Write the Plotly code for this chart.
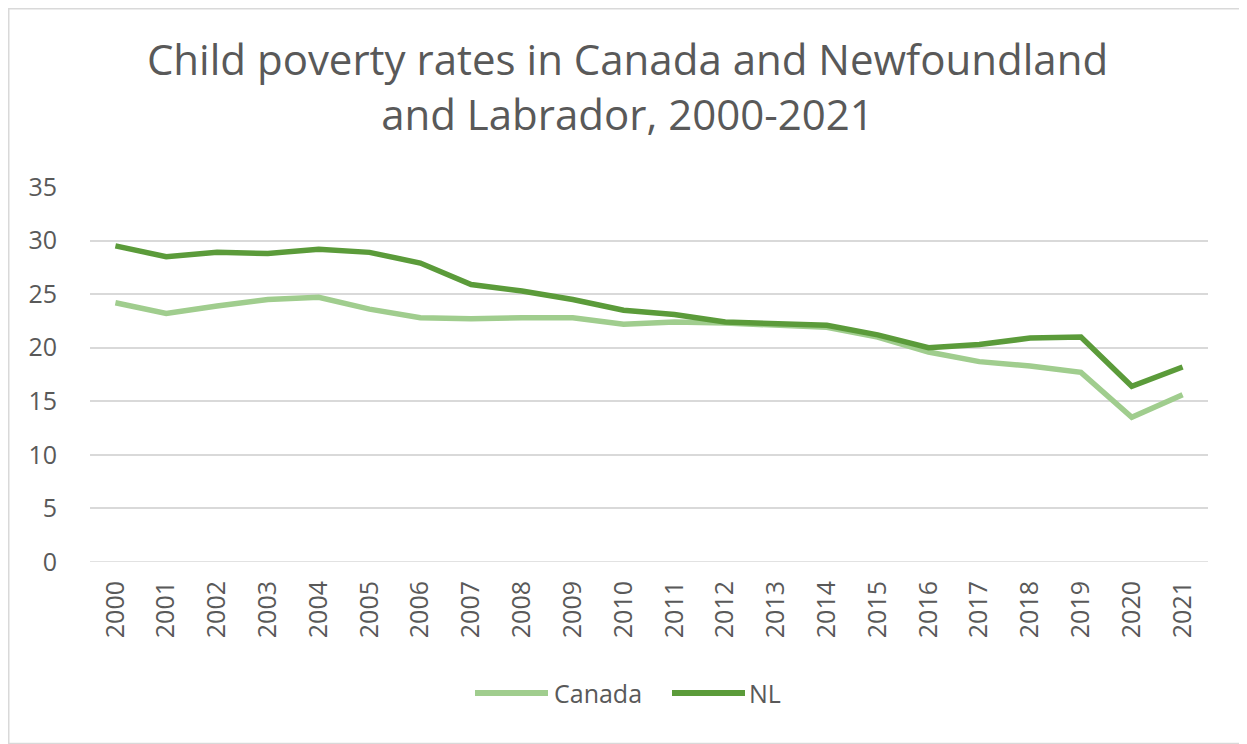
import plotly.graph_objects as go

years = [str(y) for y in range(2000, 2022)]
canada = [24.2, 23.2, 23.9, 24.5, 24.7, 23.6, 22.8, 22.7, 22.8, 22.8, 22.2,
          22.4, 22.3, 22.1, 21.9, 21.0, 19.6, 18.7, 18.3, 17.7, 13.5, 15.6]
nl = [29.5, 28.5, 28.9, 28.8, 29.2, 28.9, 27.9, 25.9, 25.3, 24.5, 23.5,
      23.1, 22.4, 22.2, 22.1, 21.2, 20.0, 20.3, 20.9, 21.0, 16.4, 18.2]
series_names = ["Canada", "NL"]
series_colors = ["#A0CD8E", "#5B9B3A"]

# the page body adds an 8px offset; figure sized to fit the 1247x744 window
OFF = 8
W, H = 1247 - OFF, 744 - OFF
ML, MR, MT, MB = 90 - OFF, 39, 187 - OFF, 182
pw, ph = W - ML - MR, H - MT - MB

def px(x):  # page x pixel -> paper x
    return (x - OFF - ML) / pw

def py(y):  # page y pixel -> paper y
    return (H - MB - (y - OFF)) / ph

FONT = "Open Sans, sans-serif"
GRAY = "#595959"

fig = go.Figure()
for name, vals, col in zip(series_names, [canada, nl], series_colors):
    fig.add_trace(go.Scatter(x=years, y=vals, name=name, mode="lines",
                             line=dict(color=col, width=5.5)))

fig.update_layout(
    width=W, height=H,
    margin=dict(l=ML, r=MR, t=MT, b=MB),
    paper_bgcolor="white", plot_bgcolor="white",
    font=dict(family=FONT, color=GRAY),
    title=dict(text="Child poverty rates in Canada and Newfoundland<br>and Labrador, 2000-2021",
               x=0.5, xanchor="center", y=1 - (75 - OFF) / H, yanchor="top",
               font=dict(size=42, color=GRAY, family=FONT)),
    showlegend=False,
    xaxis=dict(type="category", range=[-0.5, 21.5], tickangle=-90,
               tickfont=dict(size=25, color=GRAY, family=FONT), showgrid=False,
               showline=False, ticks="", ticklabelstandoff=13),
    yaxis=dict(range=[0, 35], dtick=5, tickfont=dict(size=25, color=GRAY, family=FONT),
               gridcolor="#D9D9D9", gridwidth=1.5, zeroline=False, showline=False,
               ticks="", ticklabelstandoff=32),
)

# outer chart border
fig.add_shape(type="rect", xref="paper", yref="paper",
              x0=px(OFF + 0.75), x1=px(1240), y0=py(743.5), y1=py(OFF + 0.75),
              line=dict(color="#D9D9D9", width=1.5), layer="below")
# baseline gridline at 0
fig.add_shape(type="line", xref="paper", yref="y", x0=0, x1=1, y0=0, y1=0,
              line=dict(color="#D9D9D9", width=1.5), layer="below")

# legend (drawn manually to match the long line samples)
leg_y = py(693)
leg = [(475, 548, 552), (672, 745, 747)]
for (x0, x1, tx), name, col in zip(leg, series_names, series_colors):
    fig.add_shape(type="line", xref="paper", yref="paper",
                  x0=px(x0), x1=px(x1), y0=leg_y, y1=leg_y,
                  line=dict(color=col, width=6))
    fig.add_annotation(text=name, xref="paper", yref="paper", x=px(tx), y=leg_y,
                       xanchor="left", yanchor="middle", showarrow=False,
                       font=dict(size=25, color=GRAY, family=FONT))

fig.write_html("out.html")
